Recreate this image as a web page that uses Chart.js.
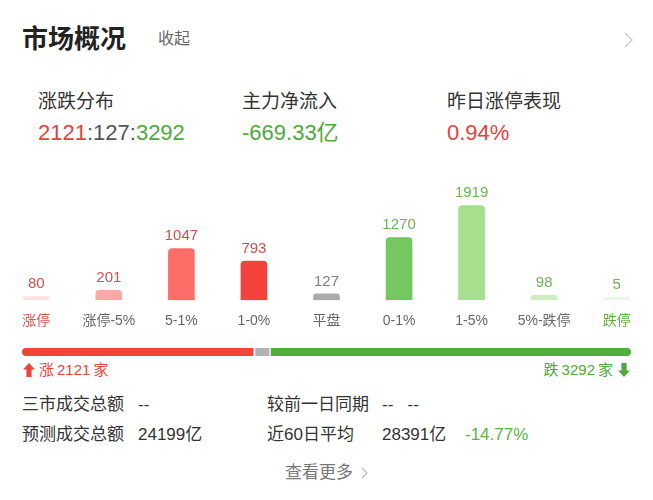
<!DOCTYPE html>
<html lang="zh-CN">
<head>
<meta charset="UTF-8">
<title>市场概况</title>
<script src="https://cdn.jsdelivr.net/npm/chart.js"></script>
<style>
    html, body {
        margin: 0;
        padding: 0;
        background: #fff;
    }
    body {
        width: 653px;
        height: 500px;
        position: relative;
        overflow: hidden;
        font-family: "Liberation Sans", "Noto Sans CJK SC", sans-serif;
        color: #333;
    }
    .t {
        position: absolute;
        white-space: nowrap;
        line-height: 1;
    }
    .red { color: #e2433c; }
    .green { color: #4ea83d; }
    .label { font-size: 19px; color: #333; top: 92px; }
    .value { font-size: 22px; top: 122px; }
    .row { font-size: 17px; color: #333; }
    #barBox {
        position: absolute;
        left: 0;
        top: 170px;
        width: 653px;
        height: 173px;
    }
    #ratioBox {
        position: absolute;
        left: 22px;
        top: 348px;
        width: 609px;
        height: 8px;
    }
    svg { position: absolute; }
</style>
</head>
<body>
    <div class="t" style="left:22px;top:26px;font-size:26px;font-weight:bold;color:#222;">市场概况</div>
    <div class="t" style="left:158px;top:31px;font-size:16px;color:#666;">收起</div>
    <svg style="left:622px;top:31px" width="12" height="18"><polyline points="3,2 10,9 3,16" fill="none" stroke="#cfcfcf" stroke-width="1.5"/></svg>

    <div class="t label" style="left:38px;">涨跌分布</div>
    <div class="t label" style="left:242px;">主力净流入</div>
    <div class="t label" style="left:447px;">昨日涨停表现</div>

    <div class="t value" style="left:38px;" id="ratioText"></div>
    <div class="t value green" style="left:242px;">-669.33亿</div>
    <div class="t value red" style="left:447px;">0.94%</div>

    <div id="barBox"><canvas id="distChart"></canvas></div>
    <div id="ratioBox"><canvas id="ratioChart"></canvas></div>

    <svg style="left:23px;top:363px" width="12" height="14"><path d="M6 0 L12 6.5 L8.6 6.5 L8.6 14 L3.4 14 L3.4 6.5 L0 6.5 Z" fill="#e8453c"/></svg>
    <div class="t red" style="left:39px;top:362px;font-size:15px;" id="upText"></div>
    <div class="t green" style="right:40px;top:362px;font-size:15px;" id="downText"></div>
    <svg style="left:618px;top:363px" width="12" height="14"><path d="M6 14 L12 7.5 L8.6 7.5 L8.6 0 L3.4 0 L3.4 7.5 L0 7.5 Z" fill="#4ea83d"/></svg>

    <div class="t row" style="left:22px;top:396px;">三市成交总额</div>
    <div class="t row" style="left:138px;top:396px;">--</div>
    <div class="t row" style="left:267px;top:396px;">较前一日同期</div>
    <div class="t row" style="left:382px;top:396px;">--&nbsp;&nbsp;&nbsp;--</div>

    <div class="t row" style="left:22px;top:426px;">预测成交总额</div>
    <div class="t row" style="left:138px;top:426px;">24199亿</div>
    <div class="t row" style="left:267px;top:426px;">近60日平均</div>
    <div class="t row" style="left:382px;top:426px;">28391亿</div>
    <div class="t row green" style="left:465px;top:426px;color:#5cb248;">-14.77%</div>

    <div class="t" style="left:285px;top:464px;font-size:17px;color:#777;">查看更多</div>
    <svg style="left:360px;top:466px" width="10" height="14"><polyline points="2,2 7,7 2,12" fill="none" stroke="#bbb" stroke-width="1.3"/></svg>

<script>
    // 涨跌分布
    const categories = ["涨停", "涨停-5%", "5-1%", "1-0%", "平盘", "0-1%", "1-5%", "5%-跌停", "跌停"];
    const counts = [80, 201, 1047, 793, 127, 1270, 1919, 98, 5];
    const barColors = ["#fde2e2", "#fba9a6", "#ff6d69", "#f4433a", "#ababab", "#74c85f", "#a6e08f", "#cdeebf", "#ecf7e7"];
    const valueColors = ["#cc524d", "#cc524d", "#cc524d", "#cc524d", "#808080", "#6db255", "#6db255", "#6db255", "#6db255"];
    const tickColors = ["#d9534f", "#666", "#666", "#666", "#666", "#666", "#666", "#666", "#5cb040"];
    const yMax = 2640;

    // 涨 / 平 / 跌 家数
    const upCount = 2121;
    const flatCount = 127;
    const downCount = 3292;

    const fontFamily = '"Liberation Sans", "Noto Sans CJK SC", sans-serif';
    Chart.defaults.font.family = fontFamily;
    Chart.defaults.animation = false;

    document.getElementById("ratioText").innerHTML =
        '<span class="red">' + upCount + '</span><span style="color:#555">:' + flatCount +
        ':</span><span class="green">' + downCount + '</span>';
    document.getElementById("upText").textContent = "涨\u2009" + upCount + "\u2009家";
    document.getElementById("downText").textContent = "跌\u2009" + downCount + "\u2009家";

    const valueLabels = {
        id: "valueLabels",
        afterDatasetsDraw(chart) {
            const ctx = chart.ctx;
            const meta = chart.getDatasetMeta(0);
            ctx.save();
            ctx.font = "15px " + fontFamily;
            ctx.textAlign = "center";
            ctx.textBaseline = "bottom";
            meta.data.forEach((bar, i) => {
                ctx.fillStyle = valueColors[i];
                ctx.fillText(counts[i], bar.x, bar.y - 5);
            });
            ctx.restore();
        }
    };

    new Chart(document.getElementById("distChart"), {
        type: "bar",
        data: {
            labels: categories,
            datasets: [{
                data: counts,
                backgroundColor: barColors,
                barThickness: 26,
                minBarLength: 3,
                borderRadius: { topLeft: 4, topRight: 4 },
                borderSkipped: "bottom"
            }]
        },
        options: {
            responsive: true,
            maintainAspectRatio: false,
            layout: { padding: 0 },
            plugins: { legend: { display: false }, tooltip: { enabled: false } },
            scales: {
                x: {
                    grid: { display: false, drawTicks: false },
                    border: { display: false },
                    ticks: {
                        padding: 13,
                        font: { size: 14 },
                        color: ctx => tickColors[ctx.index]
                    }
                },
                y: {
                    display: false,
                    min: 0,
                    max: yMax
                }
            }
        },
        plugins: [valueLabels]
    });

    new Chart(document.getElementById("ratioChart"), {
        type: "bar",
        data: {
            labels: [""],
            datasets: [
                { data: [upCount], backgroundColor: "#f24437", borderColor: "#fff", borderWidth: { right: 2 }, borderRadius: { topLeft: 4, bottomLeft: 4 }, borderSkipped: false },
                { data: [flatCount], backgroundColor: "#b3b3b3", borderWidth: 0, borderSkipped: false },
                { data: [downCount], backgroundColor: "#4dae3a", borderColor: "#fff", borderWidth: { left: 2 }, borderRadius: { topRight: 4, bottomRight: 4 }, borderSkipped: false }
            ]
        },
        options: {
            indexAxis: "y",
            responsive: true,
            maintainAspectRatio: false,
            layout: { padding: 0 },
            datasets: { bar: { barPercentage: 1, categoryPercentage: 1 } },
            plugins: { legend: { display: false }, tooltip: { enabled: false } },
            scales: {
                x: { display: false, stacked: true, min: 0, max: upCount + flatCount + downCount },
                y: { display: false, stacked: true }
            }
        }
    });
</script>
</body>
</html>
